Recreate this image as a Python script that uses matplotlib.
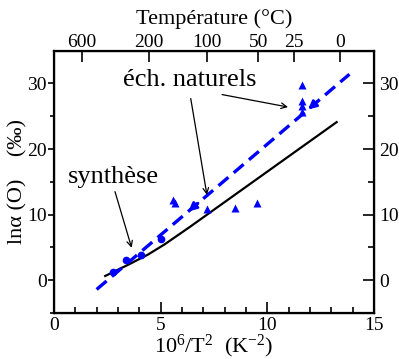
import numpy as np
import matplotlib
matplotlib.use("Agg")
import matplotlib.pyplot as plt

plt.rcParams['font.family'] = ['Liberation Serif', 'DejaVu Serif']
plt.rcParams['mathtext.fontset'] = 'custom'
plt.rcParams['mathtext.rm'] = 'Liberation Serif'
plt.rcParams['mathtext.it'] = 'Liberation Serif:italic'

# échantillons de synthèse (cercles)
synth_x = [2.78, 3.36, 4.08, 5.02]
synth_y = [1.3, 3.1, 3.8, 6.3]

# échantillons naturels (triangles)
nat_x = [5.56, 5.67, 7.19, 8.49, 9.53, 11.64, 11.64, 11.64, 11.64]
nat_y = [12.3, 11.8, 10.9, 11.0, 11.7, 29.8, 27.3, 26.5, 25.6]

# courbe théorique
theo_x = [2.4, 3.5, 4.4, 5.2, 6.4, 13.25]
theo_y = [0.65, 2.4, 3.9, 5.5, 8.2, 24.1]

# droite de régression
fit_x = [2.0, 13.85]
fit_y = [-1.4, 31.4]

# axe du haut en température
temp_c = [600, 200, 100, 50, 25, 0]

fig = plt.figure(figsize=(3.99, 3.59), dpi=100)
ax = fig.add_axes([0.1353, 0.128, 0.8020, 0.731])

ax.plot(theo_x, theo_y, color='black', lw=1.6)
ax.plot(fit_x, fit_y, color='#0000ff', lw=2.4, ls=(0, (3.9, 2.1)))
ax.plot(synth_x, synth_y, 'o', color='#0000ff', ms=4.5)
ax.plot(nat_x, nat_y, '^', color='#0000ff', ms=5.5, mec='none')

# petites flèches bleues sur la droite
slope = (fit_y[1] - fit_y[0]) / (fit_x[1] - fit_x[0])
for xt in [6.30, 11.91]:
    yt = fit_y[0] + slope * (xt - fit_x[0])
    ax.annotate('', xy=(xt, yt), xytext=(xt + 0.45, yt + 0.45 * slope),
                arrowprops=dict(arrowstyle='-|>', color='#0000ff', lw=2,
                                mutation_scale=12, shrinkA=0, shrinkB=0))

ax.text(6.38, 30.5, 'éch. naturels', fontsize=19, ha='center', va='center')
ax.text(2.77, 15.8, 'synthèse', fontsize=19, ha='center', va='center')
arrow = dict(arrowstyle='->', color='black', lw=0.9, shrinkA=0, shrinkB=0)
ax.annotate('', xy=(10.97, 26.4), xytext=(7.88, 28.3), arrowprops=arrow)
ax.annotate('', xy=(7.17, 13.0), xytext=(6.41, 27.7), arrowprops=arrow)
ax.annotate('', xy=(3.64, 4.95), xytext=(2.86, 13.5), arrowprops=arrow)

ax.set_xlim(0, 15)
ax.set_ylim(-5, 35)
ax.set_xticks([0, 5, 10, 15])
ax.set_xticks(np.arange(0, 16, 1), minor=True)
ax.set_yticks([0, 10, 20, 30])
ax.set_yticks([-5, 5, 15, 25], minor=True)
ax.tick_params(axis='x', which='both', direction='in', labelsize=14, width=1.2)
ax.tick_params(axis='x', which='major', length=8, pad=3)
ax.tick_params(axis='x', which='minor', length=4)
ax.tick_params(axis='y', which='both', direction='out', labelsize=14, width=1.2)
ax.tick_params(axis='y', which='major', length=4, pad=1)
ax.tick_params(axis='y', which='minor', length=3)
for s in ax.spines.values():
    s.set_linewidth(1.6)

ax.set_xlabel(r'10$^{6}$/T$^{2}$  (K$^{-2}$)', fontsize=16, labelpad=-1)
ax.set_ylabel('lnα (O)    (‰)', fontsize=16, labelpad=0)

# axe de droite
axr = ax.twinx()
axr.set_ylim(ax.get_ylim())
axr.set_yticks([0, 10, 20, 30])
axr.set_yticks([-5, 5, 15, 25], minor=True)
axr.tick_params(axis='y', which='both', direction='in', labelsize=14, width=1.2)
axr.tick_params(axis='y', which='major', length=8)
axr.tick_params(axis='y', which='minor', length=4)

# axe du haut
axt = ax.twiny()
axt.set_xlim(ax.get_xlim())
axt.set_xticks([1e6 / (t + 273.15) ** 2 for t in temp_c])
axt.set_xticklabels([str(t) for t in temp_c])
axt.tick_params(axis='x', direction='in', labelsize=14, length=8, width=1.2, pad=0)
axt.set_xlabel('Température (°C)', fontsize=16, labelpad=7)

fig.savefig('out.png', dpi=100)
